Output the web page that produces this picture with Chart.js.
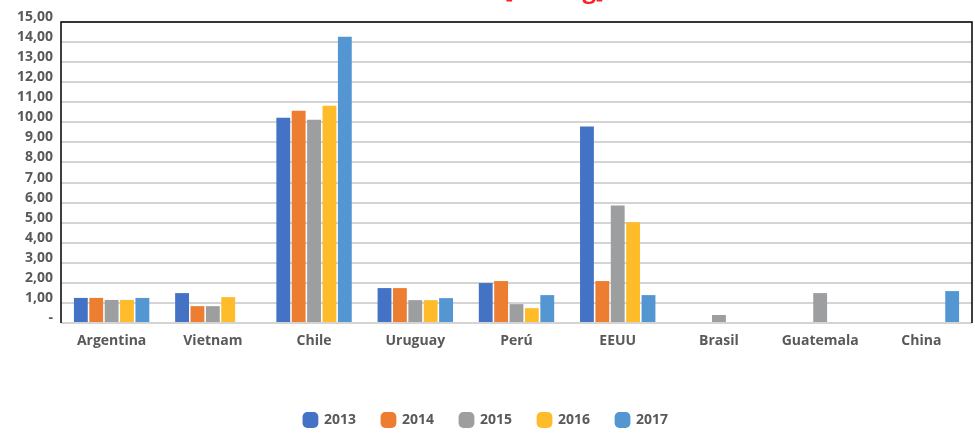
<!DOCTYPE html>
<html>
<head>
<meta charset="utf-8">
<script src="https://cdn.jsdelivr.net/npm/chart.js@4/dist/chart.umd.min.js"></script>
<style>
  html, body { margin: 0; padding: 0; background: #fff; }
  #wrap { width: 975px; height: 437px; position: relative; }
</style>
</head>
<body>
<div id="wrap"><canvas id="c" width="975" height="437"></canvas></div>
<script>
const categories = ['Argentina', 'Vietnam', 'Chile', 'Uruguay', 'Perú', 'EEUU', 'Brasil', 'Guatemala', 'China'];
const years = ['2013', '2014', '2015', '2016', '2017'];
const v2013 = [1.25, 1.49, 10.23, 1.74, 1.99, 9.79, null, null, null];
const v2014 = [1.25, 0.84, 10.58, 1.74, 2.09, 2.09, null, null, null];
const v2015 = [1.15, 0.84, 10.13, 1.14, 0.94, 5.86, 0.40, 1.49, null];
const v2016 = [1.15, 1.29, 10.83, 1.14, 0.74, 5.02, null, null, null];
const v2017 = [1.25, null, 14.26, 1.24, 1.39, 1.39, null, null, 1.59];
const titleText = 'Precio [US$/kg]';
const colors = ['#4472C4', '#ED7D31', '#9C9E9F', '#FFBC2A', '#5396D2'];
const seriesValues = [v2013, v2014, v2015, v2016, v2017];

const FONT = "'Open Sans', 'DejaVu Sans', sans-serif";
const TXT = '#595959';

const framePlugin = {
  id: 'frame',
  afterDraw(chart) {
    const {ctx, chartArea: a} = chart;
    ctx.save();
    ctx.strokeStyle = '#000';
    ctx.lineWidth = 1.5;
    ctx.beginPath();
    ctx.moveTo(a.left, a.bottom);
    ctx.lineTo(a.left, a.top);
    ctx.lineTo(a.right, a.top);
    ctx.lineTo(a.right, a.bottom);
    ctx.stroke();
    // clipped title (only descenders visible)
    ctx.fillStyle = '#FF1F1F';
    ctx.font = "bold 24px " + FONT;
    ctx.textAlign = 'right';
    ctx.textBaseline = 'alphabetic';
    ctx.fillText(titleText, 604, -2);
    ctx.restore();
  }
};

new Chart(document.getElementById('c'), {
  type: 'bar',
  data: {
    labels: categories,
    datasets: years.map((y, i) => ({
      label: y,
      data: seriesValues[i],
      backgroundColor: colors[i],
      borderWidth: 0,
      categoryPercentage: 0.76,
      barPercentage: 0.9
    }))
  },
  options: {
    responsive: false,
    animation: false,
    devicePixelRatio: 1,
    layout: { padding: { top: 22, right: 3, left: 0, bottom: 0 } },
    plugins: {
      title: { display: false },
      tooltip: { enabled: false },
      legend: {
        position: 'bottom',
        labels: {
          usePointStyle: true,
          pointStyle: 'rectRounded',
          boxWidth: 13,
          boxHeight: 13,
          padding: 26,
          color: TXT,
          font: { family: FONT, size: 14, weight: 'bold' }
        }
      }
    },
    scales: {
      x: {
        grid: { display: false, drawTicks: false },
        border: { display: false },
        ticks: {
          color: TXT,
          padding: 10,
          font: { family: FONT, size: 14, weight: 'bold' }
        },
        afterFit(s) { s.height = 64; }
      },
      y: {
        min: 0,
        max: 15,
        ticks: {
          stepSize: 1,
          color: TXT,
          padding: 8,
          labelOffset: -5,
          font: { family: FONT, size: 14, weight: 'bold' },
          callback: (v) => v === 0 ? '-' : v.toFixed(2).replace('.', ',')
        },
        grid: { color: '#D4D4D4', lineWidth: 2, drawTicks: false },
        border: { display: false },
        afterFit(s) { s.width = 61; }
      }
    }
  },
  plugins: [framePlugin]
});
</script>
</body>
</html>
